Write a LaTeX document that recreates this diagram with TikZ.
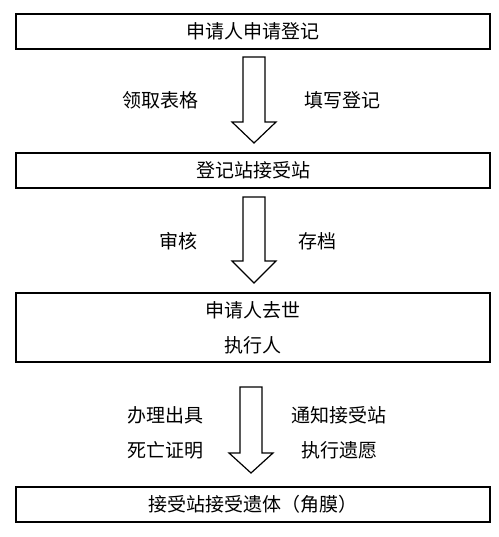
\documentclass[tikz,border=0pt]{standalone}
\usepackage{fontspec}
\usepackage{tikz}
\usetikzlibrary{arrows, calc}
\newfontfamily\cjk{Noto Sans CJK SC}

\tikzset{
    stagebox/.style={draw, line width=1.2pt, minimum width=474pt, inner sep=0pt, align=center,
        font=\cjk\fontsize{19}{35}\selectfont},
    note/.style={font=\cjk\fontsize{19}{35}\selectfont, align=center, inner sep=0pt}
}

\begin{document}
\begin{tikzpicture}[x=1pt, y=-1pt]
        \useasboundingbox (0,0) rectangle (498,537);
        \node[stagebox, minimum height=35pt] (apply) at (253,31.5) {申请人申请登记};
        \node[stagebox, minimum height=35pt] (station) at (253,170.5) {登记站接受站};
        \node[stagebox, minimum height=69pt] (death) at (253,327.5) {申请人去世\\执行人};
        \node[stagebox, minimum height=35pt] (accept) at (253,504.5) {接受站接受遗体（角膜）};
        \foreach \cx/\t/\b/\p in {254/57/122/143, 254/197/261/283, 251/387/453/473} {
            \draw[line width=1.2pt, line join=miter] (\cx-11,\t) -- (\cx+11,\t) -- (\cx+11,\b) -- (\cx+22,\b)
                -- (\cx,\p) -- (\cx-22,\b) -- (\cx-11,\b) -- cycle;
        }
        \node[note] (form) at (160,100) {领取表格};
        \node[note] (fill) at (342,100) {填写登记};
        \node[note] (check) at (178,241) {审核};
        \node[note] (file) at (317,241) {存档};
        \node[note] (cert) at (165,432.5) {办理出具\\死亡证明};
        \node[note] (notify) at (339,432.5) {通知接受站\\执行遗愿};
    \end{tikzpicture}
\end{document}
